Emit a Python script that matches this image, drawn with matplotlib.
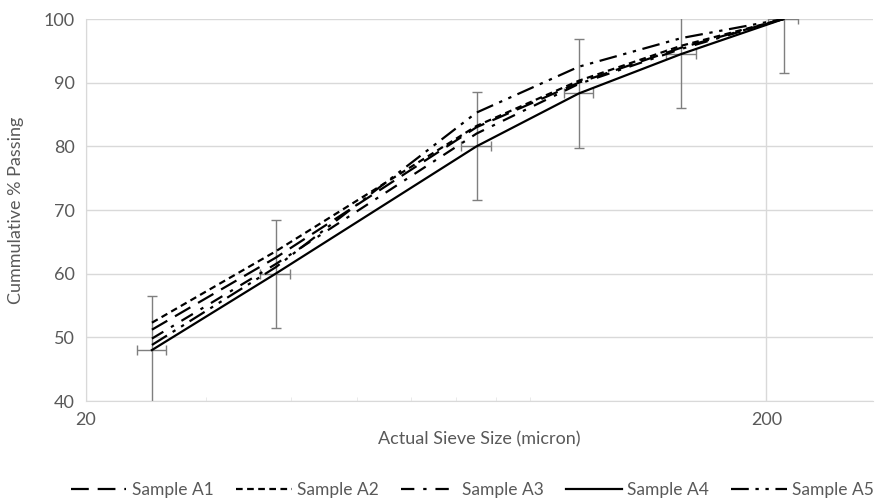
import matplotlib.pyplot as plt
from matplotlib.ticker import FixedLocator, NullFormatter

plt.rcParams['font.family'] = ['Lato', 'DejaVu Sans']

# sieve sizes (micron)
sizes = [25, 38, 75, 106, 150, 212]
# cumulative % passing per sample
sample_a1 = [51.2, 62.5, 83.0, 90.0, 95.5, 100]
sample_a2 = [52.3, 63.5, 83.2, 90.3, 95.8, 100]
sample_a3 = [49.8, 61.5, 82.0, 89.8, 95.3, 100]
sample_a4 = [48.0, 60.0, 80.0, 88.3, 94.5, 100]
sample_a5 = [48.8, 61.0, 85.3, 92.5, 97.0, 100]
y_err = 8.5
x_err_frac = 0.05

labels = ["Sample A1", "Sample A2", "Sample A3", "Sample A4", "Sample A5"]
series = [sample_a1, sample_a2, sample_a3, sample_a4, sample_a5]
styles = [(0, (8, 4)), (0, (3, 2)), (0, (6, 4, 1.5, 4)), "-",
          (0, (8, 3, 1.5, 3, 1.5, 3))]

grey = "#595959"
grid = "#d9d9d9"

fig = plt.figure(figsize=(8.75, 5.01), dpi=100)
ax = fig.add_axes([86 / 875, 1 - 401 / 501, 787 / 875, 382 / 501])

for vals, lab, ls in zip(series, labels, styles):
    ax.plot(sizes, vals, color="black", lw=1.6, linestyle=ls, label=lab, zorder=3)

# error bars on sample A4
ax.errorbar(sizes, sample_a4, yerr=y_err,
            xerr=[s * x_err_frac for s in sizes],
            fmt="none", ecolor="#7f7f7f", elinewidth=1, capsize=3.5, zorder=2)

ax.set_xscale("log")
ax.set_xlim(20, 287)
ax.set_ylim(40, 100)
ax.xaxis.set_major_locator(FixedLocator([20, 200]))
ax.xaxis.set_major_formatter(plt.FixedFormatter(["20", "200"]))
ax.xaxis.set_minor_locator(FixedLocator([30, 40, 50, 60, 70, 80, 90]))
ax.xaxis.set_minor_formatter(NullFormatter())
ax.set_yticks(range(40, 101, 10))

ax.grid(True, which="major", color=grid, lw=1)
for s in ["top", "right"]:
    ax.spines[s].set_visible(False)
for s in ["left", "bottom"]:
    ax.spines[s].set_color(grid)
ax.tick_params(axis="both", which="major", length=0, labelsize=13,
               labelcolor=grey, pad=8)
ax.tick_params(axis="x", which="minor", length=3, color="#e6e6e6", direction="in")

ax.set_xlabel("Actual Sieve Size (micron)", fontsize=13, color=grey, labelpad=2)
ax.set_ylabel("Cummulative % Passing", fontsize=13, color=grey, labelpad=14)

fig.legend(loc="lower center", bbox_to_anchor=(0.54, -0.025), ncol=5,
           frameon=False, fontsize=12.5, labelcolor=grey, handlelength=3.2,
           handletextpad=0.3, columnspacing=1.3)

plt.savefig("out.png", dpi=100)
